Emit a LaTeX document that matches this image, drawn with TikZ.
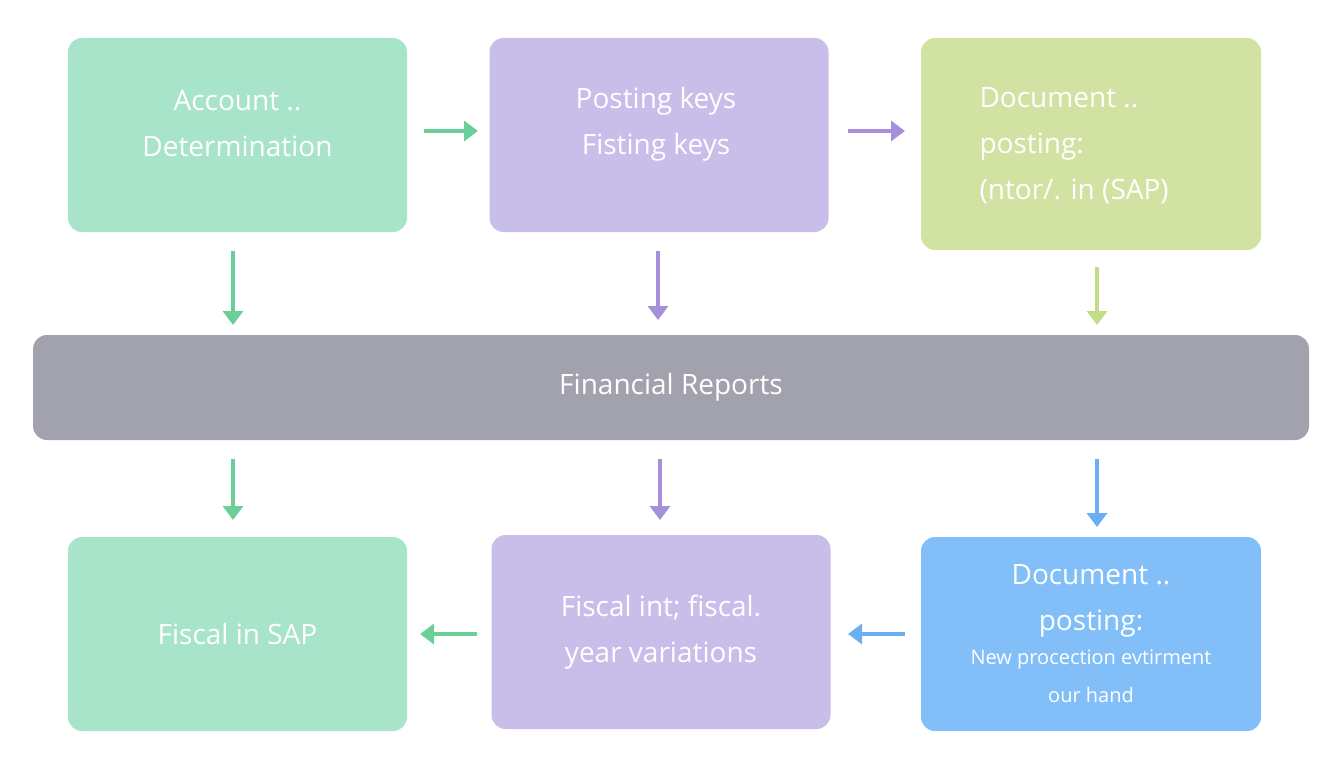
\documentclass[tikz,border=0pt]{standalone}
\usepackage{fontspec}
\setmainfont{Open Sans}
\usetikzlibrary{arrows.meta}
\definecolor{greenbox}{HTML}{A8E4CA}
\definecolor{greenarr}{HTML}{6CCF9A}
\definecolor{purplebox}{HTML}{C9BDE9}
\definecolor{purplearr}{HTML}{A690DC}
\definecolor{olivebox}{HTML}{D1E2A2}
\definecolor{olivearr}{HTML}{C2DC8A}
\definecolor{greybar}{HTML}{A2A2AE}
\definecolor{bluebox}{HTML}{82BEF8}
\definecolor{bluearr}{HTML}{6AAEF4}
\begin{document}
\begin{tikzpicture}[x=1pt,y=-1pt]
    \tikzset{box/.style = {rounded corners=14pt,minimum width=339pt,minimum height=194pt,text=white,align=center,font=\fontsize{28}{46}\selectfont}}
    \tikzset{edge/.style = {-{Triangle[width=20pt,length=14pt]},line width=4pt}}
    \useasboundingbox (0,0) rectangle (1344,768);
    % boxes
    \node[box,fill=greenbox] (acc) at (237.5,135) {};
    \node[text=white,align=center,font=\fontsize{28}{46}\selectfont] (acct) at (237.5,124) {Account ..\\Determination};
    \node[box,fill=purplebox] (keys) at (659,135) {};
    \node[text=white,align=center,font=\fontsize{28}{46}\selectfont] (keyst) at (656,124) {Posting keys\\Fisting keys};
    \node[box,fill=olivebox,minimum width=340pt,minimum height=212pt] (doc) at (1091,144) {};
    \node[text=white,align=left,font=\fontsize{28}{46}\selectfont,anchor=west] (doct) at (976,146) {Document ..\\posting:\\(ntor/. in (SAP)};
    \node[box,fill=greybar,minimum width=1276pt,minimum height=105pt] (rep) at (671,387.5) {Financial Reports};
    \node[box,fill=greenbox] (fis) at (237.5,634) {Fiscal in SAP};
    \node[box,fill=purplebox] (var) at (661,632) {Fiscal int; fiscal.\\year variations};
    \node[box,fill=bluebox,minimum width=340pt] (new) at (1091,634) {Document ..\\posting:\\[-12pt]{\fontsize{20}{34}\selectfont New procection evtirment}\\[-8pt]{\fontsize{20}{34}\selectfont our hand}};
    % arrow ends
    \coordinate (h1a) at (424,131); \coordinate (h1b) at (478,131);
    \coordinate (h2a) at (848,131); \coordinate (h2b) at (905,131);
    \coordinate (v1a) at (233,251); \coordinate (v1b) at (233,325);
    \coordinate (v2a) at (658,251); \coordinate (v2b) at (658,320);
    \coordinate (v3a) at (1097,267); \coordinate (v3b) at (1097,325);
    \coordinate (w1a) at (233,459); \coordinate (w1b) at (233,520);
    \coordinate (w2a) at (660,459); \coordinate (w2b) at (660,520);
    \coordinate (w3a) at (1097,459); \coordinate (w3b) at (1097,527);
    \coordinate (g1a) at (477,634); \coordinate (g1b) at (420,634);
    \coordinate (g2a) at (905,634); \coordinate (g2b) at (848,634);
    % edges
    \draw[edge,greenarr] (h1a) -- (h1b);
    \draw[edge,purplearr] (h2a) -- (h2b);
    \draw[edge,greenarr] (v1a) -- (v1b);
    \draw[edge,purplearr] (v2a) -- (v2b);
    \draw[edge,olivearr] (v3a) -- (v3b);
    \draw[edge,greenarr] (w1a) -- (w1b);
    \draw[edge,purplearr] (w2a) -- (w2b);
    \draw[edge,bluearr] (w3a) -- (w3b);
    \draw[edge,greenarr] (g1a) -- (g1b);
    \draw[edge,bluearr] (g2a) -- (g2b);
\end{tikzpicture}
\end{document}
